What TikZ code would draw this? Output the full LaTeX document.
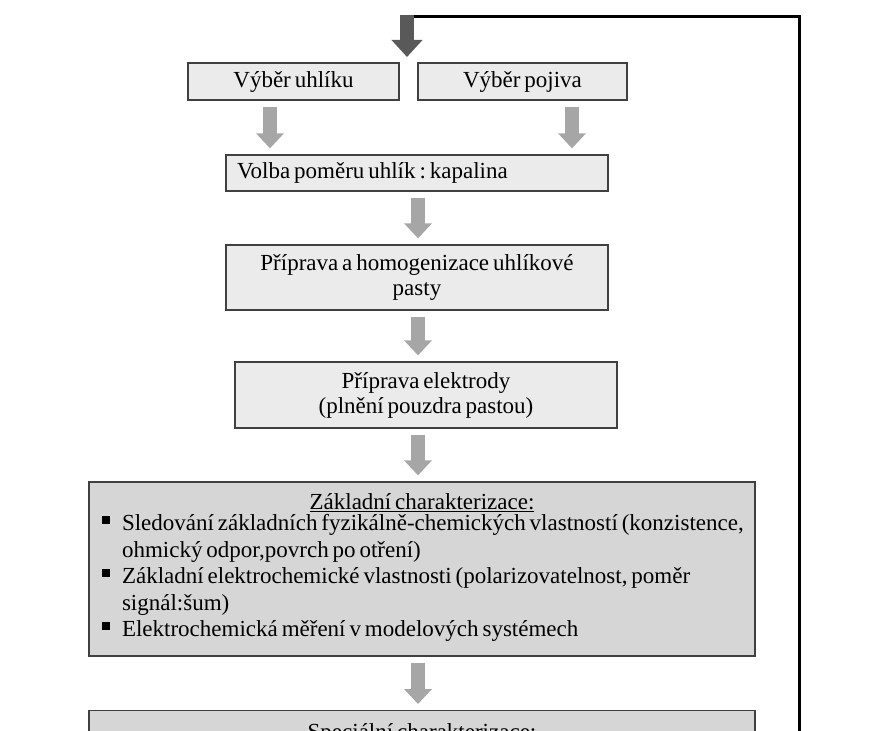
\documentclass[tikz,border=0pt]{standalone}
\usepackage{fontspec}
\setmainfont{Liberation Serif}
\usetikzlibrary{arrows.meta}
\definecolor{boxfill}{HTML}{EBEBEB}
\definecolor{boxfilldark}{HTML}{D6D6D6}
\definecolor{boxline}{HTML}{404040}
\definecolor{arrowgray}{HTML}{A6A6A6}
\definecolor{arrowdark}{HTML}{595959}
\newcommand{\bulsq}{\raisebox{7pt}{\rule{8pt}{8pt}}}
\newcommand{\tightsp}{\frenchspacing\spaceskip=0.17em plus 0.1em minus 0.05em\relax\xspaceskip=0.17em plus 0.1em\relax}
\newcommand{\tightfont}[2]{\fontsize{#1}{#2}\selectfont\tightsp}
\begin{document}
\begin{tikzpicture}[x=1pt,y=-1pt,
  stepbox/.style={draw=boxline, line width=1.3pt, fill=boxfill, inner sep=0pt,
    font=\tightfont{23}{25}, align=center},
  bigbox/.style={stepbox, fill=boxfilldark, font=\tightfont{23}{26.5}},
  flowarrow/.style={draw=arrowgray, line width=14pt,
    -{Triangle[length=15pt,width=27pt]}, shorten <=6pt, shorten >=6pt},
  looparrow/.style={draw=arrowdark, line width=14pt,
    -{Triangle[length=17pt,width=30pt]}},
  loopline/.style={draw=black, line width=3pt}]
\useasboundingbox (0,0) rectangle (869,730);
\clip (0,0) rectangle (869,730);
\fill[white] (0,0) rectangle (869,730);

\node[stepbox, minimum width=211pt, minimum height=37pt] (A) at (293.5,81.5) {Výběr uhlíku};
\node[stepbox, minimum width=209pt, minimum height=37pt] (B) at (522.5,81.5) {Výběr pojiva};
\node[stepbox, minimum width=382pt, minimum height=36pt, text width=360pt, align=left] (C) at (417,173) {\tightsp Volba poměru uhlík : kapalina};
\node[stepbox, minimum width=382pt, minimum height=65pt] (D) at (417,277.5) {Příprava a homogenizace uhlíkové\\pasty};
\node[stepbox, minimum width=382pt, minimum height=66pt] (E) at (426,395) {Příprava elektrody\\(plnění pouzdra pastou)};
\node[bigbox, minimum width=666pt, minimum height=174pt, text width=640pt, align=left] (F) at (422,569) {%
\tightsp{\centering\underline{Základní charakterizace:}\par}%
\noindent\begin{tabular}{@{}p{20pt}@{}l@{}}
\bulsq & Sledování základních fyzikálně-chemických vlastností (konzistence,\\
 & ohmický odpor,povrch po otření)\\
\bulsq & Základní elektrochemické vlastnosti (polarizovatelnost, poměr\\
 & signál:šum)\\
\bulsq & Elektrochemická měření v modelových systémech
\end{tabular}};
\node[bigbox, minimum width=666pt, minimum height=48pt, anchor=north] (G) at (422,710) {\underline{Speciální charakterizace:}};

\coordinate (ax) at (270,0);
\coordinate (bx) at (572,0);
\coordinate (mx) at (418,0);
\draw[flowarrow] (A.south -| ax) -- (C.north -| ax);
\draw[flowarrow] (B.south -| bx) -- (C.north -| bx);
\draw[flowarrow] (C.south -| mx) -- (D.north -| mx);
\draw[flowarrow] (D.south -| mx) -- (E.north -| mx);
\draw[flowarrow] (E.south -| mx) -- (F.north -| mx);
\draw[flowarrow] (F.south -| mx) -- (G.north -| mx);

\coordinate (loopbottom) at (799,760);
\coordinate (loopcorner) at (799,16.5);
\coordinate (looptop) at (407,15);
\coordinate (looptip) at (407,57);
\draw[loopline] (loopbottom) -- (loopcorner) -- (loopcorner -| looptop);
\draw[looparrow] (looptop) -- (looptip);
\end{tikzpicture}
\end{document}
